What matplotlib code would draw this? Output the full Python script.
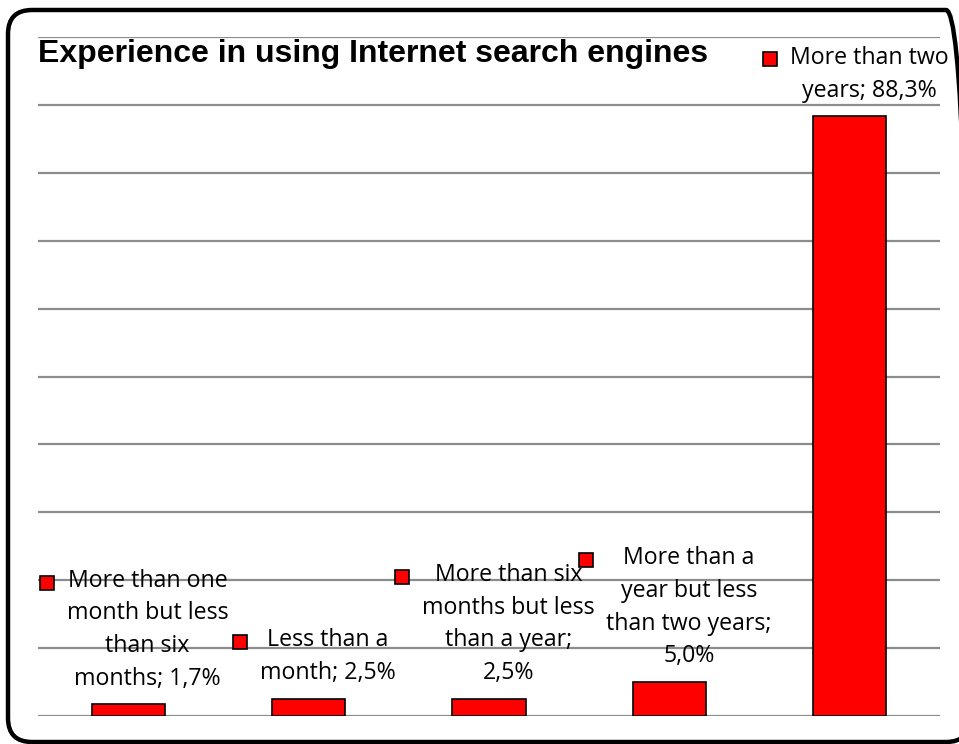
import matplotlib
matplotlib.use("Agg")
import matplotlib.pyplot as plt
from matplotlib.patches import FancyBboxPatch, Rectangle

# survey answers, share of respondents in %
categories = [
    "More than one\nmonth but less\nthan six\nmonths",
    "Less than a\nmonth",
    "More than six\nmonths but less\nthan a year",
    "More than a\nyear but less\nthan two years",
    "More than two\nyears",
]
values = [1.7, 2.5, 2.5, 5.0, 88.3]
value_text = ["1,7%", "2,5%", "2,5%", "5,0%", "88,3%"]
# the value goes on its own line for some labels
value_newline = [False, False, True, True, False]

BAR_RED = "#ff0000"
GRID_GREY = "#8c8c8c"
LABEL_FONT = "Open Sans"

fig = plt.figure(figsize=(9.59, 7.44), dpi=100)

# rounded chart frame (pixel units, runs off the right edge)
frame = FancyBboxPatch((8, 2), 962, 732,
                       boxstyle="round,pad=0,rounding_size=24",
                       transform=None, fill=False,
                       edgecolor="black", linewidth=3.2)
fig.patches.append(frame)

ax = fig.add_axes([38 / 959, 1 - 716 / 744, 902 / 959, 679 / 744])
x = list(range(len(values)))
ax.bar(x, values, width=0.405, color=BAR_RED, edgecolor="black",
       linewidth=1.2, zorder=3)
ax.set_xlim(-0.5, len(values) - 0.5)
ax.set_ylim(0, 100)
ax.set_yticks(range(0, 101, 10))
ax.yaxis.grid(True, color=GRID_GREY, linewidth=1.6)
ax.set_axisbelow(True)
ax.tick_params(left=False, bottom=False, labelleft=False, labelbottom=False)
for s in ax.spines.values():
    s.set_visible(False)

fig.text(38 / 959, 1 - 54 / 744, "Experience in using Internet search engines",
         family="Liberation Sans", weight="bold", fontsize=23,
         va="center", ha="left")

texts = []
for i, v in enumerate(values):
    sep = ";\n" if value_newline[i] else "; "
    label = categories[i] + sep + value_text[i]
    t = ax.annotate(label, xy=(i, v), xytext=(14, 10),
                    textcoords="offset points", ha="center", va="bottom",
                    family=LABEL_FONT, fontsize=16.7, linespacing=1.48,
                    zorder=4, annotation_clip=False)
    texts.append((t, label.count("\n") + 1))

# legend keys sit left of each label block, level with its first line
fig.canvas.draw()
r = fig.canvas.get_renderer()
sq = 14
for t, n in texts:
    bb = t.get_window_extent(r)
    line_h = bb.height / n
    cx = bb.x0 - 20
    cy = bb.y1 - line_h / 2 + 1
    fig.patches.append(Rectangle((cx - sq / 2, cy - sq / 2), sq, sq,
                                 transform=None, facecolor=BAR_RED,
                                 edgecolor="black", linewidth=1.2))

fig.savefig("out.png", dpi=100)
